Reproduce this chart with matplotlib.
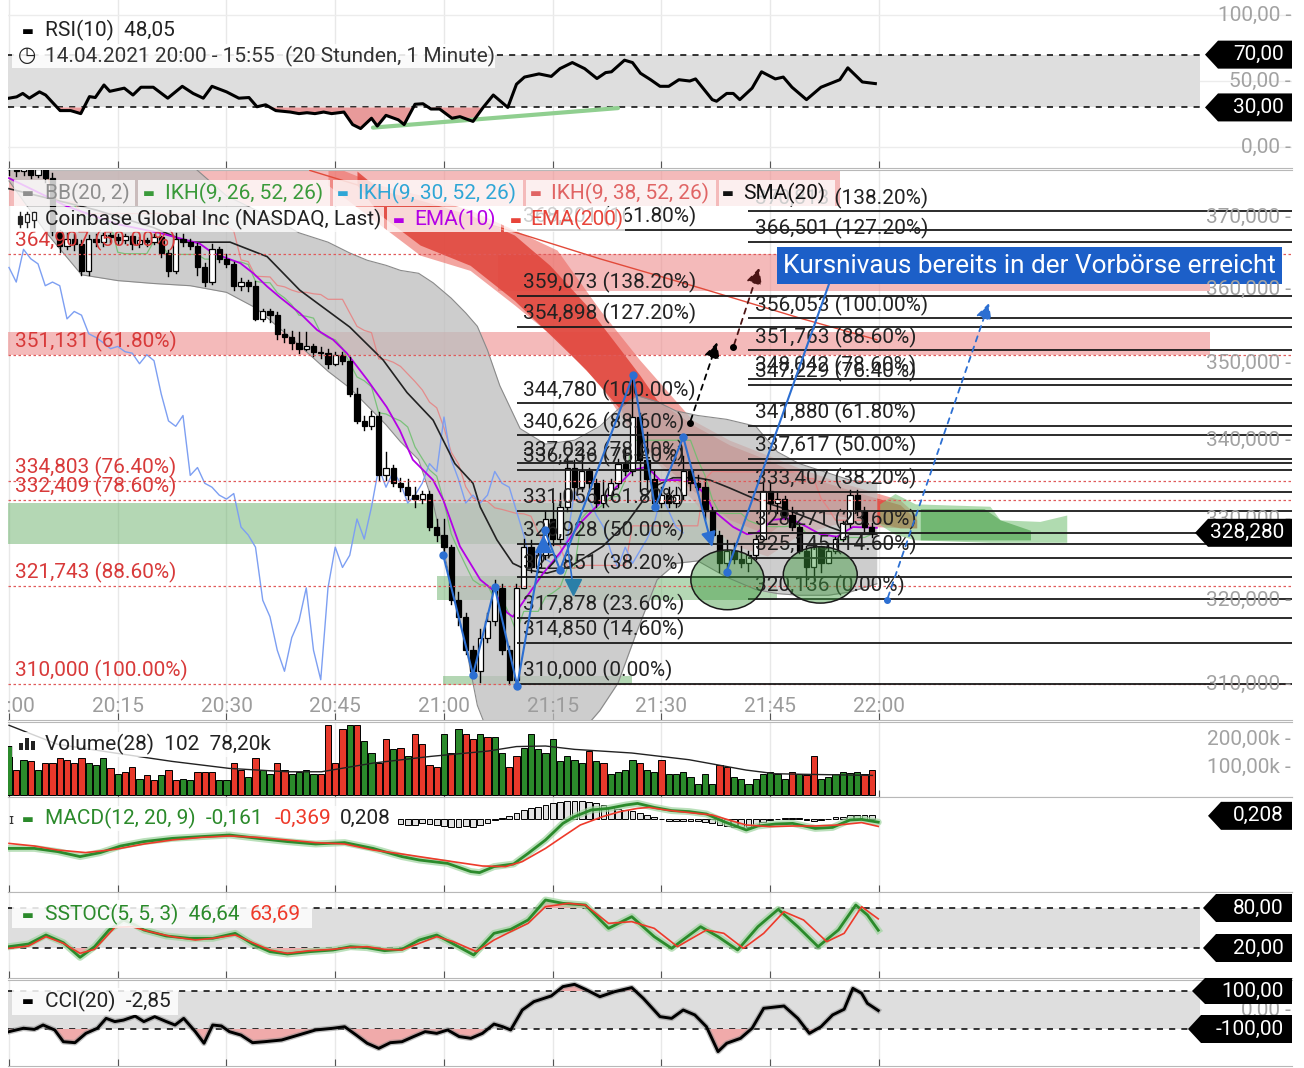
import numpy as np
import matplotlib
matplotlib.use("Agg")
import matplotlib.pyplot as plt
from matplotlib.patches import Polygon, Rectangle, Ellipse
from matplotlib.lines import Line2D
from matplotlib.transforms import IdentityTransform, blended_transform_factory

plt.rcParams['font.family'] = ['Roboto', 'DejaVu Sans']

# ------------------------------------------------------------------ DATA
time_ticks = [0, 15, 30, 45, 60, 75, 90, 105, 120]
time_labels = ['20:00', '20:15', '20:30', '20:45', '21:00', '21:15', '21:30', '21:45', '22:00']

first_open = 378.0
closes = [377.0, 376.5, 377.5, 376.0, 376.8, 375.5, 368.0, 366.0, 367.0, 366.2,
          362.5, 367.0, 366.5, 367.5, 367.2, 366.8, 367.3, 366.2, 366.8, 366.5,
          367.2, 365.0, 362.5, 367.0, 366.5, 366.0, 363.0, 361.0, 365.5, 364.2,
          363.5, 360.5, 361.0, 360.5, 356.0, 357.0, 356.5, 354.0, 353.5, 352.8,
          352.0, 352.3, 351.6, 351.4, 350.0, 351.2, 350.4, 346.0, 342.5, 341.8,
          343.2, 335.5, 336.5, 334.5, 334.0, 333.0, 332.5, 333.2, 329.0, 328.0,
          326.5, 320.0, 318.0, 314.0, 311.5, 315.5, 317.5, 321.5, 314.0, 310.5,
          321.5, 326.5, 324.0, 325.5, 330.0, 327.5, 331.5, 336.5, 334.0, 336.0,
          334.5, 332.0, 333.0, 334.5, 337.0, 336.0, 343.0, 337.5, 335.0, 332.0,
          333.0, 332.0, 333.0, 336.0, 334.5, 334.0, 331.0, 328.0, 324.5, 326.0,
          325.0, 324.5, 325.5, 327.5, 333.5, 332.0, 332.5, 330.5, 329.0, 326.0,
          324.0, 326.5, 324.5, 326.0, 327.5, 329.5, 333.0, 331.0, 329.0, 328.28]
highs = [379.0, 377.8, 378.2, 377.9, 377.2, 377.0, 376.2, 368.2, 367.8, 367.6,
         366.8, 367.5, 367.6, 367.8, 367.8, 367.6, 367.7, 367.5, 367.2, 367.1,
         367.6, 367.4, 365.4, 367.8, 367.6, 367.0, 366.4, 363.6, 366.2, 365.8,
         364.8, 363.8, 361.6, 361.3, 361.2, 357.3, 357.4, 356.9, 354.6, 354.4,
         354.3, 354.2, 352.6, 352.2, 351.9, 351.6, 351.5, 350.9, 346.8, 343.2,
         343.8, 343.6, 338.5, 336.8, 335.2, 335.0, 334.0, 333.5, 333.5, 330.0,
         330.0, 326.8, 321.0, 318.5, 314.5, 316.5, 318.5, 322.5, 322.0, 314.5,
         322.0, 327.5, 327.4, 326.5, 331.0, 332.0, 333.3, 338.0, 337.5, 338.7,
         336.5, 335.0, 334.9, 335.0, 337.6, 338.7, 348.5, 343.5, 341.0, 336.0,
         334.0, 334.0, 334.0, 338.0, 336.2, 335.5, 335.0, 331.5, 328.5, 327.4,
         327.0, 326.6, 326.0, 328.0, 334.7, 334.5, 333.4, 332.9, 331.5, 329.5,
         326.6, 327.4, 326.6, 327.0, 327.8, 329.8, 333.7, 333.7, 331.5, 329.5]
lows = [376.0, 375.8, 376.0, 375.5, 375.6, 375.0, 367.5, 365.2, 365.5, 365.4,
        362.0, 362.0, 366.0, 366.0, 366.5, 366.3, 366.4, 365.5, 365.8, 366.0,
        366.2, 364.5, 361.8, 362.2, 366.0, 365.5, 362.0, 360.5, 360.8, 363.8,
        363.0, 359.9, 359.9, 359.8, 355.8, 355.7, 355.6, 353.3, 352.9, 352.0,
        351.4, 351.8, 351.0, 350.8, 349.5, 349.8, 350.0, 345.8, 342.2, 341.3,
        341.5, 334.9, 334.9, 334.2, 333.5, 332.5, 331.5, 332.0, 328.6, 327.2,
        325.8, 319.5, 317.0, 313.5, 310.9, 310.2, 315.0, 317.0, 313.5, 310.0,
        309.8, 321.5, 323.5, 323.5, 325.0, 326.8, 327.0, 331.0, 332.5, 333.5,
        333.5, 331.5, 331.5, 332.5, 334.0, 335.5, 335.5, 333.5, 333.5, 331.5,
        331.5, 331.5, 331.5, 332.5, 333.6, 333.6, 330.0, 327.0, 323.5, 323.4,
        324.5, 324.1, 323.6, 325.0, 327.5, 331.1, 330.8, 330.0, 328.6, 325.8,
        321.7, 322.5, 323.4, 324.5, 325.8, 327.3, 329.0, 330.5, 328.5, 327.8]

# overlays (minute, price)
sma_t = [0, 12, 20, 24.6, 30.5, 35.6, 40.1, 47.0, 51.6, 54.9, 58.5, 61.5, 64.0, 65.0, 67.3, 69.5,
         71.4, 74.2, 77.4, 81.9, 85.2, 88.8, 91.6, 94.9, 96.7, 99.4, 103.2, 106.3, 110.9, 113.2, 116.0, 119.7]
sma_p = [374.0, 371.0, 368.5, 366.5, 366.5, 364.5, 359.9, 354.9, 350.5, 346.2, 342.6, 337.0, 334.5, 331.5,
         327.4, 324.5, 323.7, 323.3, 324.1, 326.6, 329.5, 334.0, 335.2, 335.2, 334.9, 333.9, 332.4, 331.5,
         329.9, 329.0, 328.1, 328.1]
ema_t = [0, 8, 15, 20.7, 26.3, 28.1, 31.9, 33.7, 35.6, 37.4, 40.1, 42.5, 44.7, 46.6, 49.4, 52.1, 53.9,
         55.7, 58.5, 59.9, 62.2, 65.0, 66.8, 68.7, 69.5, 71.4, 73.7, 76.0, 78.8, 81.5, 84.3, 86.1, 88.0,
         89.8, 92.6, 94.3, 96.3, 97.1, 99.9, 101.8, 103.2, 105.4, 107.7, 110.1, 111.9, 114.2, 116.4, 119.7]
ema_p = [375.5, 371.5, 369.0, 367.8, 366.3, 365.0, 363.6, 362.2, 360.4, 358.9, 356.8, 354.5, 353.2,
         351.4, 347.9, 344.3, 341.3, 337.5, 334.9, 332.4, 326.6, 322.5, 321.2, 318.5, 318.0, 320.4,
         323.3, 325.8, 329.5, 332.0, 334.5, 336.2, 336.6, 334.9, 334.9, 334.7, 332.8, 331.1, 329.0,
         328.1, 328.3, 329.9, 330.1, 329.0, 328.1, 327.8, 329.0, 328.9]
ema200_t = [41.5, 53.9, 70.1, 81.5, 95.3, 109.1, 119.7]
ema200_p = [376.6, 372.7, 367.8, 364.2, 360.2, 356.1, 353.2]
bb_t = [0, 5, 10, 15, 20, 25, 30, 34, 37, 40, 44, 47, 49.4, 52, 54, 56.5, 58.5, 61, 63, 64.6,
        66, 67.7, 70.5, 74, 78, 81.5, 84, 86.6, 89.4, 92, 95, 99, 103, 106, 109, 113, 116, 119.7]
bb_up = [384, 383, 382, 381, 380, 377.5, 373, 371.0, 369.5, 367.8, 366.5, 365.0, 364.0, 363.3, 362.6,
         362.2, 360.9, 358.8, 356.8, 355, 351.8, 347.1, 341.5, 339.5, 340.0, 341.8, 344.0, 345.8,
         345.0, 343.8, 343.2, 342.7, 341.8, 338.5, 337.0, 335.8, 334.9, 334.5]
bb_lo = [375.1, 368, 362.0, 361.2, 360.8, 360.5, 359.6, 357.5, 355.0, 352.5, 349.0, 346.8, 344.5,
         342.0, 339.8, 337.5, 332.0, 322.0, 314.5, 307.5, 304.5, 303.5, 303, 303, 303.5, 306.9,
         310.1, 316.2, 322.5, 324.5, 324.8, 322.8, 321.3, 320.8, 320.6, 320.6, 321.0, 322.0]

cloud_dk_t = [48.0, 51.2, 56.7, 63.6, 69.7, 74.6, 79.6, 84.4, 87.0, 89.4, 94.3, 99.4, 104.6, 109.1,
              113.7, 118.3, 122.9, 125.2]
cloud_dk_hi = [376.5, 373.8, 372.4, 370.3, 367.5, 363.3, 357.9, 351.8, 348.5, 345.2, 342.0, 339.4,
               337.5, 335.6, 334.3, 333.0, 331.8, 329.9]
cloud_dk_lo = [374.5, 370.3, 366.1, 363.3, 358.5, 353.9, 349.2, 343.9, 340.0, 337.5, 333.6, 329.9,
               328.1, 331.1, 330.5, 329.8, 328.9, 328.9]
cloud_lt_t = [44.0, 51.2, 56.7, 63.6, 69.7, 75.6, 81.5, 87.0, 94.3, 99.4, 104.6, 109.1, 113.7, 122.9,
              125.2]
cloud_lt_hi = [377.5, 374.5, 373.1, 371.0, 368.2, 365.4, 357.2, 350.5, 342.6, 340.0, 338.1, 336.4,
               334.9, 332.4, 330.5]
cloud_lt_lo = [374.5, 368.9, 364.7, 362.6, 357.9, 353.2, 347.2, 339.4, 332.4, 326.9, 325.4, 328.1,
               329.3, 328.9, 328.9]
gcloud_t = [120.1, 122.2, 125.0, 135.3, 136.7, 142.2, 145.9]
gcloud_hi = [331.9, 333.2, 331.9, 331.6, 329.9, 329.7, 330.5]
gcloud_lo = [329.3, 328.1, 327.4, 327.1, 327.1, 327.1, 327.1]
gcloud2_t = [125.7, 134.5, 136.7, 140.9]
gcloud2_hi = [331.3, 331.3, 329.9, 328.6]
gcloud2_lo = [327.4, 327.4, 327.4, 327.4]

red_zone_t0 = [-0.2, 67.5, 0.0]
red_zone_t1 = [165.7, 165.7, 114.6]
red_zone_lo = [351.1, 359.8, 371.6]
red_zone_hi = [354.2, 364.9, 377.5]
green_zone_t0 = [-0.2, 59.0, 59.9]
green_zone_t1 = [104.6, 106.0, 86.0]
green_zone_lo = [326.9, 320.0, 309.9]
green_zone_hi = [332.0, 322.9, 310.9]

fibL_p = [364.907, 351.131, 334.803, 332.409, 321.743, 310.000]
fibL_pct = ['50.00%', '61.80%', '76.40%', '78.60%', '88.60%', '100.00%']
fibM_p = [368.201, 359.073, 354.898, 344.780, 340.626, 337.023, 336.236, 331.056, 326.928, 322.851,
          317.878, 314.850, 310.000]
fibM_pct = ['161.80%', '138.20%', '127.20%', '100.00%', '88.60%', '78.60%', '76.40%', '61.80%',
            '50.00%', '38.20%', '23.60%', '14.60%', '0.00%']
fibR_p = [370.813, 366.501, 356.053, 351.763, 348.042, 347.229, 341.880, 337.617, 333.407, 328.271,
          325.145, 320.136]
fibR_pct = ['138.20%', '127.20%', '100.00%', '88.60%', '78.60%', '76.40%', '61.80%', '50.00%',
            '38.20%', '23.60%', '14.60%', '0.00%']

blue_t = [59.9, 64.0, 67.0, 70.1, 73.9, 76.0, 86.1, 89.1, 93.0]
blue_p = [325.5, 311.1, 321.6, 309.8, 328.6, 323.7, 348.5, 331.5, 340.4]

rsi_t = [0, 1.05, 1.9, 2.8, 4.2, 5.05, 7.05, 8.5, 9.9, 11.1, 11.9, 13.1, 13.9, 15.9, 17.1, 18.2, 19.9,
         21.9, 23.9, 25.4, 26.8, 28, 30, 31.7, 33.1, 34.2, 35.4, 36.8, 38.8, 40, 41.1, 42.2, 43.4, 44.5,
         46.2, 47.4, 48.5, 50, 50.8, 52, 53.7, 54.5, 56, 57.1, 58.2, 59.4, 61.1, 62.2, 64, 65.4, 66.8,
         68.8, 70, 71.1, 73.1, 74.8, 76, 77.7, 79.4, 81.1, 82.3, 83.1, 84.9, 86, 87.1, 88.5, 89.8, 91,
         92.4, 93.9, 94.7, 97, 97.6, 99, 99.9, 100.8, 102.5, 103.8, 105.7, 106.8, 108, 110, 112, 114.6,
         115.7, 117.7, 119.5]
rsi_v = [37, 38, 40.6, 37, 41.8, 39.4, 27.6, 27.6, 25.3, 38.2, 37.5, 47, 42.2, 44.6, 39.4, 45.3, 45.3,
         37, 46, 40.6, 37, 46, 41.8, 37, 37.5, 30.5, 32, 27.6, 26.5, 25.3, 26, 25.3, 26.5, 25.3, 26.5,
         17, 14, 21.8, 15.9, 24, 20.6, 17, 32.4, 32.8, 28.8, 28.8, 21.8, 23, 19.4, 30, 39.4, 30, 47.6,
         53, 55.4, 53.5, 59.4, 64, 59.4, 51.9, 56.4, 57, 65.8, 64, 55.9, 51, 46, 46, 51, 50, 51.6, 35.9,
         34.7, 40.6, 40.6, 35.9, 44.6, 57, 51.6, 53, 45.3, 35.9, 45.3, 51, 60, 49.3, 48.05]

volumes = [175, 89, 126, 120, 89, 114, 114, 131, 126, 114,
           131, 114, 107, 131, 95, 76, 83, 101, 58, 70,
           52, 70, 89, 52, 58, 52, 83, 83, 83, 52,
           52, 114, 89, 64, 131, 89, 76, 114, 89, 76,
           83, 89, 76, 76, 249, 114, 237, 249, 249, 194,
           150, 114, 200, 163, 169, 138, 218, 181, 107, 101,
           218, 150, 237, 218, 200, 218, 206, 206, 150, 101,
           138, 169, 218, 163, 150, 200, 120, 138, 126, 114,
           157, 120, 114, 76, 83, 89, 126, 114, 89, 83,
           126, 76, 76, 83, 64, 40, 76, 40, 107, 101,
           64, 58, 40, 58, 76, 83, 76, 58, 83, 76,
           70, 138, 58, 64, 76, 83, 80, 83, 76, 89]
vol_dir = list("grgrgrrrrr" "rgggrgrrgr" "rgrrggrrrg" "grrgrggrrg" "gggrrrrgrg"
               "grrgrgrrrr" "grgrrgrggr" "rggggggggg" "rgrggggrgg"
               "rgggggggrr" "ggggggggrg" "rrggggggrr")
vma_t = [0, 6.7, 14.6, 22.5, 30.4, 38.4, 43.1, 50.2, 58.2, 66.1, 70.0, 74.0, 78.0, 85.9, 93.8, 101.7,
         105.7, 109.6, 119.1]
vma_v = [249, 181, 150, 120, 95, 83, 83, 114, 138, 157, 173, 175, 163, 150, 126, 89, 76, 74, 70]

macd_t = [0, 3.5, 6.7, 9.8, 12.6, 15.4, 18.6, 22.5, 26.5, 30.4, 34.4, 38.4, 42.3, 46.3, 50.2, 54.2,
          56.6, 60.5, 63.7, 64.9, 66.9, 69.6, 71.6, 74.0, 76.4, 78.0, 80.3, 82.7, 85.1, 86.7, 89.0,
          91.4, 93.8, 96.2, 98.6, 101.7, 103.3, 105.7, 108.1, 111.2, 113.6, 116.0, 117.6, 119.9]
macd_v = [-1.47, -1.47, -1.63, -1.88, -1.68, -1.35, -1.13, -0.97, -0.88, -0.80, -0.97, -1.13, -1.25,
          -1.18, -1.47, -1.88, -2.05, -2.22, -2.63, -2.68, -2.38, -2.25, -1.72, -1.05, -0.22, 0.12,
          0.45, 0.53, 0.70, 0.78, 0.58, 0.42, 0.37, 0.25, -0.13, -0.55, -0.35, -0.25, -0.22, -0.47,
          -0.42, -0.05, -0.02, -0.16]
sig_t = [0, 3.5, 6.7, 10.6, 14.6, 18.6, 22.5, 26.5, 30.4, 34.4, 38.4, 42.3, 46.3, 50.2, 54.2, 58.2,
         62.1, 65.3, 68.5, 70.8, 74.0, 76.4, 78.8, 81.9, 84.3, 86.7, 88.3, 90.6, 93.8, 97.0, 99.3,
         101.7, 104.9, 108.1, 111.2, 114.4, 117.6, 119.9]
sig_v = [-1.22, -1.35, -1.55, -1.68, -1.52, -1.25, -1.05, -0.92, -0.85, -0.92, -1.05, -1.18, -1.25,
         -1.55, -1.75, -1.97, -2.18, -2.35, -2.38, -2.13, -1.47, -0.88, -0.30, 0.12, 0.37, 0.53,
         0.58, 0.45, 0.32, 0.20, -0.05, -0.30, -0.38, -0.35, -0.35, -0.30, -0.18, -0.37]
hist_start = 54
hist_v = [-0.25, -0.3, -0.3, -0.2, -0.25, -0.3, -0.35, -0.4, -0.4, -0.35, -0.4, -0.3, -0.2, -0.05,
          0.05, 0.15, 0.3, 0.45, 0.55, 0.62, 0.7, 0.78, 0.85, 0.88, 0.9, 0.9, 0.85, 0.78, 0.7, 0.6,
          0.52, 0.45, 0.38, 0.3, 0.2, 0.1,
          0.02, -0.1, -0.12, -0.1, -0.12, -0.1, -0.15, -0.2, -0.3, -0.35, -0.4, -0.42, -0.38, -0.3,
          -0.15, -0.05, 0.02, 0.05, 0.05, 0.03, -0.05, -0.08, -0.05, 0.02, 0.08, 0.12, 0.18, 0.22,
          0.2, 0.208]

stk_t = [0, 2.7, 5.1, 7.5, 9.8, 11.8, 13.8, 15.8, 17.4, 18.6, 21.7, 24.9, 28.1, 31.2, 33.6, 36.0,
         38.4, 41.5, 44.7, 47.1, 49.4, 51.8, 54.2, 56.6, 59.0, 61.3, 64.1, 66.9, 69.2, 71.6, 74.0,
         76.4, 79.5, 82.7, 85.9, 89.0, 91.4, 95.4, 97.8, 100.5, 103.3, 106.1, 108.8, 111.6, 114.4,
         116.8, 118.4, 119.9]
stk_v = [22, 26, 39.5, 28, 6, 22, 47, 62, 54.5, 47, 38, 34.5, 34.5, 42, 26, 14.5, 11, 14.5, 17, 22,
         20.5, 16, 18, 32, 39.5, 26, 9.5, 42, 48, 62, 92, 87, 84.5, 49.5, 67, 37, 19.5, 52, 37, 17,
         52, 78, 52, 22, 47, 84.5, 69.5, 46.64]
std_t = [0, 2.7, 5.1, 7.5, 9.8, 11.8, 14.6, 17.0, 19.4, 22.5, 25.7, 28.1, 31.2, 33.6, 36.0, 38.4,
         41.5, 44.7, 47.1, 49.4, 51.8, 54.2, 56.6, 59.0, 61.3, 64.5, 66.9, 69.2, 71.6, 74.0, 77.2,
         79.5, 82.7, 85.9, 89.0, 92.2, 96.2, 98.6, 101.3, 104.1, 106.9, 109.6, 112.8, 115.2, 117.6,
         119.9]
std_v = [19.5, 23, 37, 27, 12, 18, 51, 52, 44.5, 37, 32, 34.5, 39.5, 28, 17, 12, 16, 18, 21, 22, 18,
         17, 27, 37, 29.5, 14.5, 32, 44.5, 57, 82, 87, 84.5, 57, 59.5, 49.5, 22, 47, 42, 19.5, 42,
         74.5, 62, 29.5, 42, 82, 63.69]

cci_t = [0, 2.0, 3.5, 4.7, 6.3, 7.5, 9.1, 10.6, 12.2, 13.4, 14.6, 15.8, 17.4, 18.6, 20.1, 21.7, 22.9,
         24.1, 25.7, 26.9, 28.1, 29.3, 30.4, 32.0, 33.6, 35.2, 37.6, 39.9, 42.3, 44.7, 46.3, 47.9,
         49.4, 51.0, 52.6, 54.2, 55.8, 57.4, 59.0, 60.5, 62.1, 63.7, 65.3, 66.9, 68.1, 69.2, 70.8,
         72.4, 74.8, 76.4, 78.0, 79.5, 81.5, 83.5, 85.9, 87.5, 89.8, 91.4, 93.0, 94.6, 96.2, 97.8,
         99.0, 100.9, 102.5, 104.1, 106.9, 108.8, 110.4, 112.0, 113.6, 115.2, 116.4, 117.6, 118.4,
         119.9]
cci_v = [-114, -96, -102, -79, -105, -167, -172, -123, -96, -44, -61, -53, -32, -61, -35, -61, -79,
         -44, -114, -175, -79, -84, -114, -132, -172, -167, -158, -132, -105, -96, -88, -132, -175,
         -202, -172, -167, -140, -114, -123, -105, -140, -149, -123, -74, -88, -105, 0, 44, 74, 123,
         135, 109, 70, 96, 118, 61, -35, -44, 0, -26, -88, -219, -175, -149, -96, 9, 21, -44, -123,
         -88, -26, 4, 114, 88, 35, -2.85]

# ------------------------------------------------------------------ FIGURE
W, H = 1304, 1068
fig = plt.figure(figsize=(W / 100, H / 100), dpi=100)
fig.patch.set_facecolor('white')
XL = (-0.138, 176.97)
XBAND = 164.3
FS = 15
GREEN = '#2b8a2b'
RED = '#e8392b'


def add_ax(top, bottom, ylim, log=False):
    ax = fig.add_axes([8 / W, 1 - bottom / H, 1284 / W, (bottom - top) / H])
    if log:
        ax.set_yscale('log')
    ax.set_xlim(*XL)
    ax.set_ylim(*ylim)
    ax.tick_params(axis='y', which='both', left=False, right=False, labelleft=False)
    ax.set_xticks(time_ticks)
    ax.tick_params(axis='x', which='both', direction='in', length=5, color='#555',
                   labelbottom=False, top=False)
    ax.xaxis.set_minor_locator(plt.NullLocator())
    for s in ('left', 'right'):
        ax.spines[s].set_visible(False)
    for s in ('top', 'bottom'):
        ax.spines[s].set_color('#b8b8b8')
    for m in time_ticks:
        ax.axvline(m, color='#e8e8e8', lw=1, zorder=0)
    return ax


def ftext(x, y, s, **kw):
    kw.setdefault('fontsize', FS)
    kw.setdefault('va', 'center')
    return fig.text(x / W, 1 - y / H, s, **kw)


def fbox(x0, y0, x1, y1, alpha=0.8):
    fig.add_artist(Rectangle((x0 / W, 1 - y1 / H), (x1 - x0) / W, (y1 - y0) / H,
                             transform=fig.transFigure, fc='white', ec='none',
                             alpha=alpha, zorder=2))


def tag(ax, val, text, x0, h=28):
    yd = ax.transData.transform((0, val))[1]
    pts = [(x0, yd), (x0 + 13, yd + h / 2), (1292, yd + h / 2), (1292, yd - h / 2),
           (x0 + 13, yd - h / 2)]
    fig.add_artist(Polygon(pts, closed=True, transform=IdentityTransform(), fc='black',
                           ec='none', zorder=20))
    fig.text(1284 / W, yd / H, text, ha='right', va='center', color='white', fontsize=FS,
             zorder=21)


def ylab(ax, val, text):
    yd = ax.transData.transform((0, val))[1]
    fig.text(1291 / W, yd / H, text + ' -', ha='right', va='center', color='#a2a2a2',
             fontsize=FS, zorder=4)


ax_rsi = add_ax(0, 168, (-15.9, 111.4))
ax_main = add_ax(170, 720, (305.8, 376.66), log=True)
ax_vol = add_ax(722, 797, (-7.1, 260.7))
ax_macd = add_ax(797, 892, (-3.65, 1.1))
ax_sto = add_ax(892, 978, (-25, 104))
ax_cci = add_ax(980, 1066, (-294.7, 157.9))
ax_rsi.spines['top'].set_visible(False)

# ------------------------------------------------------------------ RSI
for v in (100, 50, 0):
    ax_rsi.axhline(v, color='#ececec', lw=1, zorder=0)
ax_rsi.fill_between([XL[0], XBAND], 30, 70, color='#dedede', zorder=1, lw=0)
ax_rsi.hlines([30, 70], XL[0], XBAND, colors='black', linestyles=(0, (4, 4)), lw=1.1, zorder=2)
rt, rv = np.array(rsi_t), np.array(rsi_v)
ax_rsi.fill_between(rt, rv, 30, where=rv < 30, interpolate=True, color='#e89a9a', zorder=2, lw=0)
ax_rsi.plot([50.2, 84.0], [14.7, 29.5], color='#90cf90', lw=3, zorder=2, solid_capstyle='round')
ax_rsi.plot(rt, rv, color='black', lw=2.2, zorder=3)

# ------------------------------------------------------------------ MAIN
ax = ax_main
n = len(closes)
opens = [first_open] + closes[:-1]
tt = np.arange(n)
for t0, t1, lo, hi in zip(red_zone_t0, red_zone_t1, red_zone_lo, red_zone_hi):
    ax.fill_between([t0, t1], lo, hi, color='#ee8c8c', alpha=0.6, lw=0, zorder=1)
for t0, t1, lo, hi in zip(green_zone_t0, green_zone_t1, green_zone_lo, green_zone_hi):
    ax.fill_between([t0, t1], lo, hi, color='#5aa85a', alpha=0.45, lw=0, zorder=1)
ax.fill_between(cloud_lt_t, cloud_lt_lo, cloud_lt_hi, color='#ec6e66', alpha=0.62, lw=0, zorder=2)
ax.fill_between(cloud_dk_t, cloud_dk_lo, cloud_dk_hi, color='#e0443a', alpha=0.85, lw=0, zorder=2)
ax.fill_between(gcloud_t, gcloud_lo, gcloud_hi, color='#7cc47c', alpha=0.6, lw=0, zorder=2)
ax.fill_between(gcloud2_t, gcloud2_lo, gcloud2_hi, color='#3f9a3f', alpha=0.55, lw=0, zorder=2)

ax.fill_between(bb_t, bb_lo, bb_up, color='#bdbdbd', alpha=0.75, lw=0, zorder=3)
ax.plot(bb_t, bb_up, color='#8a8a8a', lw=0.8, zorder=3)
ax.plot(bb_t, bb_lo, color='#8a8a8a', lw=0.8, zorder=3)

# ichimoku lines computed from the candles
H_, L_ = np.array(highs), np.array(lows)
tenkan = np.array([(H_[max(0, i - 8):i + 1].max() + L_[max(0, i - 8):i + 1].min()) / 2 for i in range(n)])
kijun = np.array([(H_[max(0, i - 25):i + 1].max() + L_[max(0, i - 25):i + 1].min()) / 2 for i in range(n)])
ax.plot(tt, tenkan, color='#6cbf6c', lw=0.9, alpha=0.85, zorder=4)
ax.plot(tt, kijun, color='#e88080', lw=0.9, alpha=0.85, zorder=4)
ax.plot(tt[26:] - 26, np.array(closes)[26:], color='#7d9ff2', lw=1.0, zorder=4)
ax.plot(ema200_t, ema200_p, color='#e24a3a', lw=1.0, zorder=4)
ax.plot(sma_t, sma_p, color='#222222', lw=1.2, zorder=5)
ax.plot(ema_t, ema_p, color='#b400e6', lw=1.3, zorder=5)

# candles
for i in range(n):
    o, h, l, c = opens[i], highs[i], lows[i], closes[i]
    ax.plot([i, i], [l, h], color='black', lw=1, zorder=6)
    b, t = min(o, c), max(o, c)
    if t - b < 0.2:
        t = b + 0.2
    ax.add_patch(Rectangle((i - 0.36, b), 0.72, t - b, fc='white' if c >= o else 'black',
                           ec='black', lw=0.9, zorder=6.1))


def fmt(p):
    return f"{p:.3f}".replace('.', ',')


# fibonacci sets
ax.hlines(fibL_p, XL[0], XL[1], colors='#e05a5a', linestyles=(0, (2, 2)), lw=0.9, zorder=6.5)
for p, pc in zip(fibL_p, fibL_pct):
    ax.annotate(f"{fmt(p)} ({pc})", (0.83, p), xytext=(0, 2), textcoords='offset points',
                va='bottom', ha='left', color='#d83a3a', fontsize=FS, zorder=7)
ax.hlines(fibM_p, 70.1, XL[1], colors='#1a1a1a', lw=1.3, zorder=6.5)
for p, pc in zip(fibM_p, fibM_pct):
    ax.annotate(f"{fmt(p)} ({pc})", (70.9, p), xytext=(0, 2), textcoords='offset points',
                va='bottom', ha='left', color='#222222', fontsize=FS, zorder=7)
ax.hlines(fibR_p, 101.9, XL[1], colors='#1a1a1a', lw=1.3, zorder=6.5)
for p, pc in zip(fibR_p, fibR_pct):
    ax.annotate(f"{fmt(p)} ({pc})", (102.9, p), xytext=(0, 2), textcoords='offset points',
                va='bottom', ha='left', color='#222222', fontsize=FS, zorder=7)

# ellipses
for cx, cy, w, hh in [(99.1, 322.5, 10.1, 7.3), (111.9, 323.1, 10.2, 6.9)]:
    ax.add_patch(Ellipse((cx, cy), w, hh, fc='#3f9a3f', alpha=0.45, ec='none', zorder=7.5))
    ax.add_patch(Ellipse((cx, cy), w, hh, fc='none', ec='#1a1a1a', lw=1.1, zorder=7.6))

# blue zigzag and arrows
BLUE = '#2c6fd2'
ax.plot(blue_t, blue_p, color=BLUE, lw=1.5, marker='o', ms=5, zorder=8)
ax.annotate('', xy=(97.1, 326.2), xytext=(93.0, 340.4),
            arrowprops=dict(arrowstyle='-|>', color=BLUE, lw=1.5, mutation_scale=22), zorder=8)
ax.plot([99.0, 113.2], [323.5, 361.0], color=BLUE, lw=1.5, zorder=8)
ax.plot([99.0], [323.5], 'o', color=BLUE, ms=5, zorder=8)
ax.plot([77.0, 77.8], [327.0, 321.6], color=BLUE, lw=1.2, zorder=8)
ax.plot([73.7], [326.9], '^', color=BLUE, ms=11, zorder=8)
ax.plot([77.8], [321.6], 'v', color='#2a7fa8', ms=11, zorder=8)
ax.annotate('', xy=(97.8, 353.2), xytext=(93.9, 342.2),
            arrowprops=dict(arrowstyle='-|>', color='black', lw=1.3, ls=(0, (3, 3)),
                            mutation_scale=24), zorder=8)
ax.plot([93.9], [342.2], 'o', color='black', ms=4, zorder=8)
ax.annotate('', xy=(103.6, 363.3), xytext=(99.9, 352.2),
            arrowprops=dict(arrowstyle='-|>', color='#4a1414', lw=1.3, ls=(0, (3, 3)),
                            mutation_scale=24), zorder=8)
ax.plot([99.9], [352.2], 'o', color='black', ms=4, zorder=8)
ax.annotate('', xy=(135.3, 358.5), xytext=(121.1, 320.0),
            arrowprops=dict(arrowstyle='-|>', color=BLUE, lw=1.3, ls=(0, (3, 3)),
                            mutation_scale=24), zorder=8)
ax.plot([121.1], [320.0], 'o', color=BLUE, ms=4, zorder=8)

ax.text(106.75, 363.25, "Kursnivaus bereits in der Vorbörse erreicht", color='white',
        fontsize=18.8, ha='left', va='center', zorder=12,
        bbox=dict(boxstyle='square,pad=0.24', fc='#1c5fc8', ec='none'))

# x labels in main panel
btr = blended_transform_factory(ax.transData, ax.transAxes)
for m, lab in zip(time_ticks, time_labels):
    tx = ax.text(m, 0.024, lab, transform=btr, ha='center', va='center', color='#9c9c9c',
                 fontsize=FS, zorder=9)
    tx.set_clip_on(True)
    tx.set_clip_box(ax.bbox)

# ------------------------------------------------------------------ VOLUME
cols = [GREEN if d == 'g' else RED for d in vol_dir]
ax_vol.bar(tt, volumes, width=0.85, color=cols, edgecolor='black', lw=0.7, zorder=2)
ax_vol.plot(vma_t, vma_v, color='#222222', lw=1.0, zorder=3)

# ------------------------------------------------------------------ MACD
ht = np.arange(hist_start, hist_start + len(hist_v))
ax_macd.bar(ht, hist_v, width=0.8, color='#e2e2e2', edgecolor='black', lw=0.7, zorder=2)
ax_macd.plot(macd_t, macd_v, color='#9fd49f', lw=5, alpha=0.7, zorder=3, solid_capstyle='round')
ax_macd.plot(macd_t, macd_v, color=GREEN, lw=2, zorder=4)
ax_macd.plot(sig_t, sig_v, color='#ee3a2a', lw=1.2, zorder=4)

# ------------------------------------------------------------------ SSTOC
ax_sto.fill_between([XL[0], XBAND], 20, 80, color='#dedede', zorder=1, lw=0)
ax_sto.hlines([20, 80], XL[0], XBAND, colors='black', linestyles=(0, (4, 4)), lw=1.1, zorder=2)
kt, kv = np.array(stk_t), np.array(stk_v)
ax_sto.fill_between(kt, kv, 80, where=kv > 80, interpolate=True, color='#f0aaaa', lw=0, zorder=2)
ax_sto.fill_between(kt, kv, 20, where=kv < 20, interpolate=True, color='#f0aaaa', lw=0, zorder=2)
ax_sto.plot(kt, kv, color='#9fd49f', lw=5, alpha=0.7, zorder=3)
ax_sto.plot(kt, kv, color=GREEN, lw=2, zorder=4)
ax_sto.plot(std_t, std_v, color='#ee3a2a', lw=1.2, zorder=4)

# ------------------------------------------------------------------ CCI
ax_cci.fill_between([XL[0], XBAND], -100, 100, color='#dedede', zorder=1, lw=0)
ax_cci.hlines([-100, 100], XL[0], XBAND, colors='black', linestyles=(0, (4, 4)), lw=1.1, zorder=2)
ct, cv = np.array(cci_t), np.array(cci_v)
ax_cci.fill_between(ct, cv, 100, where=cv > 100, interpolate=True, color='#f0aaaa', lw=0, zorder=2)
ax_cci.fill_between(ct, cv, -100, where=cv < -100, interpolate=True, color='#f0aaaa', lw=0, zorder=2)
ax_cci.plot(ct, cv, color='#888888', lw=4, alpha=0.5, zorder=3)
ax_cci.plot(ct, cv, color='black', lw=2.1, zorder=4)

# ------------------------------------------------------------------ AXIS LABELS / TAGS
ylab(ax_rsi, 100, '100,00'); ylab(ax_rsi, 50, '50,00'); ylab(ax_rsi, 0, '0,00')
for v in (370, 360, 350, 340, 330, 320, 310):
    ylab(ax_main, v, f"{v},000")
ylab(ax_vol, 200, '200,00k'); ylab(ax_vol, 100, '100,00k')
ylab(ax_cci, 0, '0,00')
tag(ax_rsi, 70, '70,00', 1205)
tag(ax_rsi, 30, '30,00', 1205)
tag(ax_main, closes[-1], fmt(closes[-1]), 1195)
tag(ax_macd, hist_v[-1] - 0.05, '0,208', 1208)
tag(ax_sto, 80, '80,00', 1203)
tag(ax_sto, 20, '20,00', 1203)
tag(ax_cci, 100, '100,00', 1192, h=26)
tag(ax_cci, -100, '-100,00', 1188, h=28)

# ------------------------------------------------------------------ LEGENDS
# RSI
ftext(22, 31, '▬', color='black', fontsize=9)
ftext(45, 30, 'RSI(10)  48,05', color='#222')
fbox(12, 44, 495, 68, alpha=0.88)
ftext(18, 56, '◷', color='#222', fontsize=15)
ftext(45, 56, '14.04.2021 20:00 - 15:55  (20 Stunden, 1 Minute)', color='#333')

# main row 1
for x0, x1 in [(14, 135), (138, 330), (333, 523), (526, 716), (719, 835)]:
    fbox(x0, 180, x1, 206, alpha=0.78)
for x0, x1 in [(12, 384), (387, 501), (504, 625)]:
    fbox(x0, 207, x1, 232, alpha=0.78)
row1 = [(22, 45, '#8e8e8e', 'BB(20, 2)'), (143, 165, '#3a9a3a', 'IKH(9, 26, 52, 26)'),
        (337, 358, '#2fa6d6', 'IKH(9, 30, 52, 26)'), (530, 551, '#e06464', 'IKH(9, 38, 52, 26)'),
        (722, 743, '#111111', 'SMA(20)')]
for xm, xt, c, s in row1:
    ftext(xm, 194, '▬', color=c, fontsize=9)
    ftext(xt, 193, s, color=c)
row2 = [(393, 414, '#b400e6', 'EMA(10)'), (510, 530, '#e8443a', 'EMA(200)')]
ftext(45, 219, 'Coinbase Global Inc (NASDAQ, Last)', color='#222')
for xm, xt, c, s in row2:
    ftext(xm, 220, '▬', color=c, fontsize=9)
    ftext(xt, 219, s, color=c)
# candle icon
for k, (xc, filled) in enumerate([(20, True), (27, False), (34, False)]):
    fig.add_artist(Line2D([xc / W, xc / W], [1 - 212 / H, 1 - 227 / H], transform=fig.transFigure,
                          color='#222', lw=1, zorder=4))
    fig.add_artist(Rectangle(((xc - 2.2) / W, 1 - (224 - 2 * k) / H), 4.4 / W, 8 / H,
                             transform=fig.transFigure, fc='#222' if filled else 'white',
                             ec='#222', lw=0.9, zorder=4))

# volume
fbox(12, 732, 272, 757, alpha=0.8)
for xb, hb in [(19, 7), (25, 12), (31, 9)]:
    fig.add_artist(Rectangle((xb / W, 1 - 750 / H), 4 / W, hb / H, transform=fig.transFigure,
                             fc='#222', ec='none', zorder=4))
ftext(45, 744, 'Volume(28)  102  78,20k', color='#222')

# MACD
fbox(12, 806, 395, 831, alpha=0.8)
ftext(8, 820, 'ɪ', color='#333', fontsize=10)
ftext(22, 819, '▬', color=GREEN, fontsize=9)
ftext(45, 818, 'MACD(12, 20, 9)  -0,161', color=GREEN)
ftext(275, 818, '-0,369', color='#ee3a2a')
ftext(340, 818, '0,208', color='#222')

# SSTOC
fbox(12, 900, 312, 928, alpha=0.85)
ftext(22, 915, '▬', color=GREEN, fontsize=9)
ftext(45, 914, 'SSTOC(5, 5, 3)  46,64', color=GREEN)
ftext(250, 914, '63,69', color='#ee3a2a')

# CCI
fbox(12, 988, 178, 1015, alpha=0.85)
ftext(22, 1002, '▬', color='black', fontsize=9)
ftext(45, 1001, 'CCI(20)  -2,85', color='#222')

fig.savefig('out.png', dpi=100, facecolor='white')
